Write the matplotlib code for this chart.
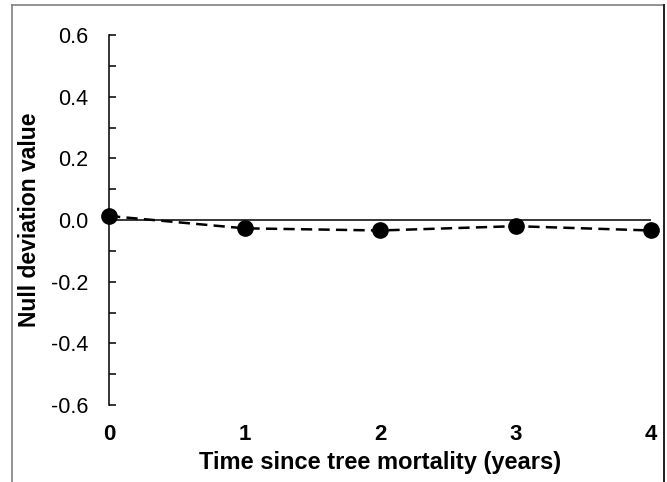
import matplotlib
matplotlib.use("Agg")
import matplotlib.pyplot as plt
from matplotlib.lines import Line2D
from matplotlib.ticker import MultipleLocator

plt.rcParams['font.family'] = ['Liberation Sans', 'DejaVu Sans']

years = [0, 1, 2, 3, 4]
null_dev = [0.013, -0.027, -0.034, -0.020, -0.034]
x_ticks = [0, 1, 2, 3, 4]
y_ticks = [-0.6, -0.4, -0.2, 0.0, 0.2, 0.4, 0.6]

W, H = 667, 482
fig = plt.figure(figsize=(W/100, H/100), dpi=100)
ax = fig.add_axes([109/W, 1-405/H, (651-109)/W, (405-35)/H])

ax.axhline(0, color='black', lw=1.1, zorder=1)
ax.plot(years, null_dev, color='black', lw=1.8, ls=(0, (4.5, 2.5)),
        marker='o', markersize=11, clip_on=False, zorder=3)

ax.set_xlim(0, 4)
ax.set_ylim(-0.6, 0.6)
ax.set_xticks(x_ticks)
ax.set_xticklabels([str(v) for v in x_ticks], fontweight='bold', fontsize=16)
ax.set_yticks(y_ticks)
ax.set_yticklabels([f"{v:.1f}" for v in y_ticks], fontsize=15.5)
ax.yaxis.set_minor_locator(MultipleLocator(0.1))

for s in ['top', 'right', 'bottom']:
    ax.spines[s].set_visible(False)
ax.spines['left'].set_linewidth(1.1)
ax.tick_params(axis='y', which='both', direction='in', length=5, width=1.1, pad=15)
ax.tick_params(axis='x', length=0, pad=14)

ax.set_xlabel('Time since tree mortality (years)', fontweight='bold', fontsize=17, labelpad=4)
ax.set_ylabel('Null deviation value', fontweight='bold', fontsize=16.5, labelpad=7)

# outer frame (gray left/top, dark right; open at the bottom)
fig.add_artist(Line2D([12/W, 12/W], [0, 1-5/H], transform=fig.transFigure,
                      color='#808080', lw=1.2))
fig.add_artist(Line2D([12/W, 664/W], [1-5/H, 1-5/H], transform=fig.transFigure,
                      color='#808080', lw=1.2))
fig.add_artist(Line2D([664/W, 664/W], [0, 1-5/H], transform=fig.transFigure,
                      color='#202020', lw=1.4))

fig.savefig('out.png', dpi=100)
